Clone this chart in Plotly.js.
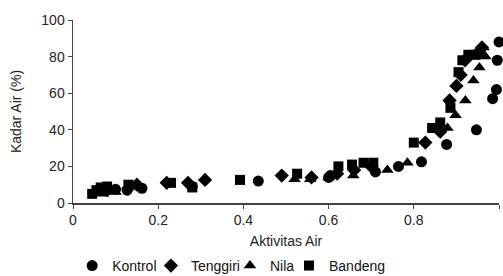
<!DOCTYPE html>
<html>
<head>
<meta charset="utf-8">
<script src="https://cdn.plot.ly/plotly-3.0.1.min.js"></script>
<style>html,body{margin:0;padding:0;background:#fff;}#chart{width:503px;height:276px;}</style>
</head>
<body>
<div id="chart"></div>
<script>
// Kontrol (circles)
const kontrolX = [0.06, 0.10, 0.127, 0.162, 0.28, 0.435, 0.60, 0.604, 0.71, 0.764, 0.818, 0.877, 0.947, 0.985, 0.994, 0.996, 1.0];
const kontrolY = [7, 7.5, 7, 8, 9, 12, 14, 15, 17, 20, 22.5, 32, 40, 57, 62, 78, 88];
// Tenggiri (diamonds)
const tenggiriX = [0.08, 0.13, 0.15, 0.22, 0.27, 0.31, 0.49, 0.56, 0.62, 0.66, 0.70, 0.827, 0.862, 0.884, 0.90, 0.91, 0.92, 0.95, 0.96];
const tenggiriY = [7, 8, 10, 11, 11, 12.6, 15, 14, 16, 18, 20, 33, 39, 56, 64, 70, 78, 82, 85];
// Nila (triangles)
const nilaX = [0.07, 0.10, 0.14, 0.52, 0.557, 0.60, 0.658, 0.738, 0.785, 0.879, 0.898, 0.921, 0.94, 0.954, 0.964, 0.968];
const nilaY = [5, 6, 9, 13, 13, 14, 15, 18, 22, 41, 48, 56, 67, 74, 85, 80];
// Bandeng (squares)
const bandengX = [0.045, 0.055, 0.065, 0.08, 0.13, 0.23, 0.28, 0.392, 0.526, 0.623, 0.655, 0.682, 0.705, 0.80, 0.843, 0.862, 0.886, 0.905, 0.914, 0.928, 0.945];
const bandengY = [5, 7, 8.5, 9, 10, 11, 8.5, 12.6, 16, 20, 21, 22, 22, 33, 41, 44, 52, 71.5, 78, 81, 81];

const seriesNames = ['Kontrol', 'Tenggiri', 'Nila', 'Bandeng'];
const symbols = ['circle', 'diamond', 'triangle-up', 'square'];
const xs = [kontrolX, tenggiriX, nilaX, bandengX];
const ys = [kontrolY, tenggiriY, nilaY, bandengY];
const sizes = [11, 11, 11, 10];
const legendIds = ['legend', 'legend2', 'legend3', 'legend4'];
const legendX = [-0.002, 0.183, 0.3685, 0.507];

const font = 'Liberation Sans, Arial, sans-serif';
const traces = seriesNames.map((n, i) => ({
  type: 'scatter', mode: 'markers', name: n, legend: legendIds[i],
  x: xs[i], y: ys[i], cliponaxis: false,
  marker: {symbol: symbols[i], color: '#000', size: sizes[i], line: {width: 0}}
}));

const layout = {
  width: 503, height: 276,
  margin: {l: 73, r: 4, t: 20, b: 73, autoexpand: false},
  paper_bgcolor: '#fff', plot_bgcolor: '#fff',
  font: {family: font, size: 14, color: '#222'},
  showlegend: true,
  xaxis: {range: [0, 1], tickvals: [0, 0.2, 0.4, 0.6, 0.8, 1], ticktext: ['0', '0.2', '0.4', '0.6', '0.8', '1'],
          showgrid: false, zeroline: false, showline: true, linecolor: '#444', linewidth: 1.5,
          ticks: 'outside', ticklen: 4, tickcolor: '#444', tickwidth: 1,
          title: {text: 'Aktivitas Air', standoff: 9, font: {size: 14}}},
  yaxis: {range: [0, 100], tickvals: [0, 20, 40, 60, 80, 100],
          showgrid: false, zeroline: false, showline: true, linecolor: '#444', linewidth: 1.5,
          ticks: 'outside', ticklen: 4, tickcolor: '#444', tickwidth: 1,
          title: {text: 'Kadar Air (%)', standoff: 16, font: {size: 14}}}
};
legendIds.forEach((id, i) => {
  layout[id] = {orientation: 'h', x: legendX[i], xanchor: 'left', y: -0.344, yanchor: 'middle',
                font: {family: font, size: 14, color: '#111'}, itemwidth: 30, bgcolor: 'rgba(0,0,0,0)'};
});
Plotly.newPlot('chart', traces, layout, {displayModeBar: false, staticPlot: true});
</script>
</body>
</html>
